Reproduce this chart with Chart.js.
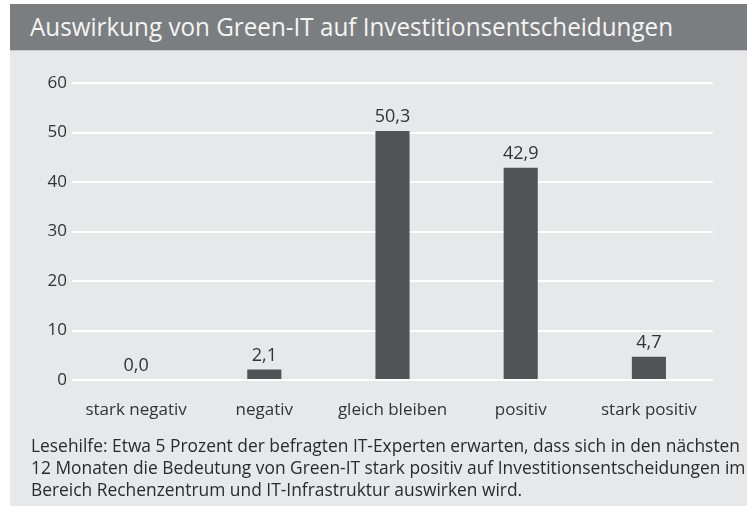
<!DOCTYPE html>
<html>
<head>
<meta charset="utf-8">
<script src="https://cdn.jsdelivr.net/npm/chart.js@4"></script>
<style>
  html, body { margin: 0; padding: 0; background: #ffffff; }
  #page { position: relative; width: 747px; height: 506px; overflow: hidden; background: #ffffff; }
  #titlebar { position: absolute; left: 10px; top: 4px; width: 737px; height: 46px; background: #7b7e80; border-bottom: 1px solid #c9cbcd; }
  #title { position: absolute; left: 20px; top: 4px; color: #f4f4f4; font-family: "Open Sans", sans-serif; font-size: 26px; white-space: nowrap; transform-origin: left top; }
  #panel { position: absolute; left: 10px; top: 51px; width: 737px; height: 455px; background: #e6e8ea; }
  #chart-wrap { position: absolute; left: 0; top: 0; width: 747px; height: 506px; }
  #note { position: absolute; left: 31px; top: 434px; color: #2b2b2b; font-family: "Open Sans", sans-serif; font-size: 18px; line-height: 22px; white-space: nowrap; }
  #note div { transform-origin: left top; }
</style>
</head>
<body>
<div id="page">
  <div id="titlebar"><div id="title">Auswirkung von Green-IT auf Investitionsentscheidungen</div></div>
  <div id="panel"></div>
  <div id="chart-wrap"><canvas id="chart" width="747" height="506"></canvas></div>
  <div id="note">
    <div>Lesehilfe: Etwa 5 Prozent der befragten IT-Experten erwarten, dass sich in den nächsten</div>
    <div>12 Monaten die Bedeutung von Green-IT stark positiv auf Investitionsentscheidungen im</div>
    <div>Bereich Rechenzentrum und IT-Infrastruktur auswirken wird.</div>
  </div>
</div>
<script>
// Daten
const categories = ['stark negativ', 'negativ', 'gleich bleiben', 'positiv', 'stark positiv'];
const values = [0.0, 2.1, 50.3, 42.9, 4.7];
const yTicks = [0, 10, 20, 30, 40, 50, 60];

// Titel und Lesehilfe auf die Breite der Vorlage stauchen
function fitWidth(el, target) {
    const w = el.getBoundingClientRect().width;
    if (w > 0) el.style.transform = 'scaleX(' + (target / w) + ')';
}
const titleEl = document.getElementById('title');
titleEl.style.display = 'inline-block';
fitWidth(titleEl, 643);
const noteLines = document.querySelectorAll('#note div');
noteLines.forEach(d => d.style.display = 'inline-block');
const noteScale = 709 / noteLines[0].getBoundingClientRect().width;
noteLines.forEach(d => { d.style.transform = 'scaleX(' + noteScale + ')'; d.style.display = 'block'; d.style.width = 'max-content'; });

const fmt = v => v.toFixed(1).replace('.', ',');

const valueLabelPlugin = {
    id: 'valueLabelPlugin',
    afterDatasetsDraw(chart) {
        const { ctx } = chart;
        const meta = chart.getDatasetMeta(0);
        ctx.save();
        ctx.fillStyle = '#333333';
        ctx.font = '18px "Open Sans", sans-serif';
        ctx.textAlign = 'center';
        ctx.textBaseline = 'alphabetic';
        meta.data.forEach((bar, i) => {
            ctx.fillText(fmt(values[i]), bar.x, bar.y - 9);
        });
        ctx.restore();
    }
};

const data = {
    labels: categories,
    datasets: [
        {
            label: 'Anteil',
            data: values,
            backgroundColor: '#505356',
            categoryPercentage: 1,
            barPercentage: 0.266,
        }
    ]
};

const options = {
    responsive: false,
    maintainAspectRatio: false,
    animation: {
        duration: 0,
    },
    layout: {
        padding: { left: 10, right: 34, top: 83, bottom: 80 }
    },
    plugins: {
        legend: { display: false },
        title: { display: false },
        tooltip: { enabled: false },
    },
    scales: {
        x: {
            grid: { display: false },
            border: { display: false },
            ticks: {
                color: '#333333',
                padding: 12,
                font: { family: '"Open Sans", sans-serif', size: 17 },
            },
            afterFit(scale) { scale.height = 46; },
        },
        y: {
            min: 0,
            max: 60,
            afterBuildTicks(scale) { scale.ticks = yTicks.map(v => ({ value: v })); },
            grid: {
                color: '#ffffff',
                lineWidth: 2,
                drawTicks: false,
            },
            border: { display: false },
            ticks: {
                color: '#333333',
                padding: 5,
                font: { family: '"Open Sans", sans-serif', size: 17 },
            },
            afterFit(scale) { scale.width = 62; },
        }
    }
};

new Chart(document.getElementById('chart').getContext('2d'), {
    type: 'bar',
    data: data,
    options: options,
    plugins: [valueLabelPlugin],
});
</script>
</body>
</html>
